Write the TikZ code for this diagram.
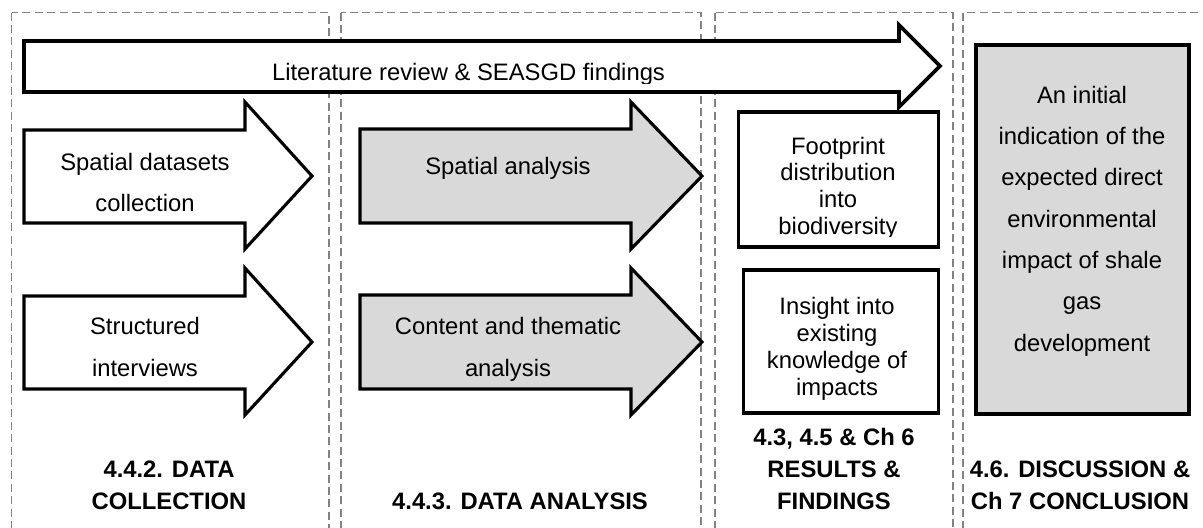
\documentclass[tikz,border=0pt]{standalone}
\usepackage{fontspec}
\setmainfont{Liberation Sans}
\definecolor{panelgray}{RGB}{130,130,130}
\definecolor{boxgray}{RGB}{217,217,217}
\tikzset{
  panel/.style={draw=panelgray, line width=0.8pt, dash pattern=on 4pt off 2.2pt},
  flowarrow/.style={draw=black, line width=1.55pt, line join=miter, miter limit=10},
  widearrow/.style={flowarrow, line width=1.85pt},
  outbox/.style={draw=black, line width=1.7pt, rectangle, inner sep=0pt},
  % multi-line nodes are placed by the baseline of their last line
  armtext/.style={font=\fontsize{11.9pt}{20.75pt}\selectfont, inner sep=0pt, anchor=base, align=center},
  boxtext/.style={font=\fontsize{11.9pt}{13.4pt}\selectfont, inner sep=0pt, anchor=base, align=center},
  bigtext/.style={font=\fontsize{11.9pt}{20.65pt}\selectfont, inner sep=0pt, anchor=base, align=center},
  heading/.style={font=\fontsize{11.9pt}{16pt}\selectfont\bfseries, inner sep=0pt, anchor=base, align=center},
}
\begin{document}
\begin{tikzpicture}[x=0.5pt, y=-0.5pt]
  \useasboundingbox (0,0) rectangle (1203,527);
  \fill[white] (0,0) rectangle (1203,527);
  \clip (0,0) rectangle (1203,527);

  % stage panels
  \draw[panel] (11.5,12.5) rectangle (329,560);
  \draw[panel] (341,12.5) rectangle (701,560);
  \draw[panel] (715,12.5) rectangle (953,560);
  \draw[panel] (963,12.5) rectangle (1240,560);

  % literature arrow spanning the first three stages
  \draw[widearrow, fill=white] (24,41) -- (899,41) -- (899,25) -- (940,66)
    -- (899,107) -- (899,92) -- (24,92) -- cycle;
  \begin{scope}
    \clip (24,41) rectangle (899,83.5);
    \node[armtext] (lit) at (468.5,80) {Literature review \& SEASGD findings};
  \end{scope}

  % data collection arrows
  \draw[flowarrow, fill=white] (24,130) -- (245,130) -- (245,102) -- (312,176)
    -- (245,249) -- (245,223) -- (24,223) -- cycle;
  \node[armtext] (spdata) at (145,211.5) {Spatial datasets\\collection};

  \draw[flowarrow, fill=white] (24,296) -- (245,296) -- (245,268) -- (312,342)
    -- (245,415) -- (245,389) -- (24,389) -- cycle;
  \node[armtext] (interv) at (145,376) {Structured\\interviews};

  % data analysis arrows
  \draw[flowarrow, fill=boxgray] (360,129) -- (631,129) -- (631,102) -- (702,176)
    -- (631,249) -- (631,223) -- (360,223) -- cycle;
  \node[armtext] (spanal) at (508,174) {Spatial analysis};

  \draw[flowarrow, fill=boxgray] (360,295) -- (631,295) -- (631,268) -- (702,342)
    -- (631,415) -- (631,389) -- (360,389) -- cycle;
  \node[armtext] (thematic) at (508,376) {Content and thematic\\analysis};

  % results boxes
  \node[outbox, fill=white, minimum width=100pt, minimum height=67.5pt] (footbox) at (838.5,179.5) {};
  \begin{scope}
    \clip (738,112) rectangle (939,236);
    \node[boxtext] (foot) at (838,234.5) {Footprint\\distribution\\into\\biodiversity};
  \end{scope}

  \node[outbox, fill=white, minimum width=97.5pt, minimum height=71.5pt] (insbox) at (841,341.5) {};
  \node[boxtext] (insight) at (837,395) {Insight into\\existing\\knowledge of\\impacts};

  % conclusion box
  \node[outbox, fill=boxgray, minimum width=106.5pt, minimum height=184.5pt] (concbox) at (1082.5,229.5) {};
  \node[bigtext] (conc) at (1082,351) {An initial\\indication of the\\expected direct\\environmental\\impact of shale\\gas\\development};

  % stage headings
  \node[heading] (h1) at (169,509) {4.4.2. DATA\\COLLECTION};
  \node[heading] (h2) at (520,509) {4.4.3. DATA ANALYSIS};
  \node[heading] (h3) at (834,509) {4.3, 4.5 \& Ch 6\\RESULTS \&\\FINDINGS};
  \node[heading] (h4) at (1080,509) {4.6. DISCUSSION \&\\Ch 7 CONCLUSION};
\end{tikzpicture}
\end{document}
